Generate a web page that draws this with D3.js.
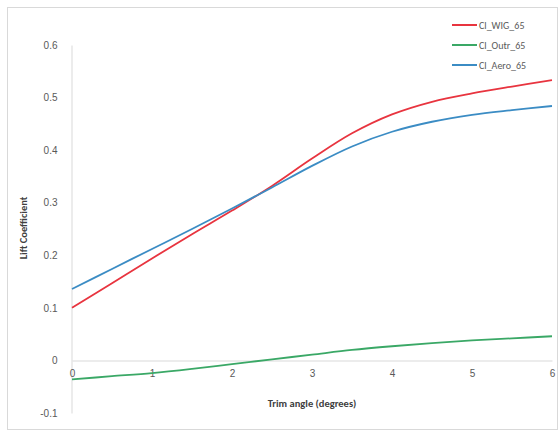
<!DOCTYPE html>
<html>
<head>
<meta charset="utf-8">
<script src="https://cdn.jsdelivr.net/npm/d3@7"></script>
<style>
  html, body { margin: 0; padding: 0; background: #fff; }
  svg { display: block; font-family: Calibri, Carlito, "Liberation Sans", Arial, sans-serif; }
</style>
</head>
<body>
<svg id="chart" width="560" height="432"></svg>
<script>
// Trim angle (degrees) sample points
const trimAngle = [0, 0.5, 1, 1.5, 2, 2.5, 3, 3.5, 4, 4.5, 5, 5.5, 6];

// Lift coefficient series
const clWIG  = [0.100, 0.147, 0.194, 0.240, 0.285, 0.332, 0.384, 0.432, 0.468, 0.492, 0.508, 0.521, 0.533];
const clOutr = [-0.036, -0.030, -0.024, -0.016, -0.007, 0.002, 0.011, 0.020, 0.027, 0.033, 0.038, 0.042, 0.046];
const clAero = [0.136, 0.174, 0.212, 0.250, 0.289, 0.329, 0.370, 0.407, 0.435, 0.454, 0.467, 0.476, 0.484];

const seriesNames = ["Cl_WIG_65", "Cl_Outr_65", "Cl_Aero_65"];
const seriesColors = ["#e8343f", "#3aa866", "#3b8cc4"];
const seriesValues = [clWIG, clOutr, clAero];

const xTicks = [0, 1, 2, 3, 4, 5, 6];
const yTicks = [-0.1, 0, 0.1, 0.2, 0.3, 0.4, 0.5, 0.6];

const svg = d3.select("#chart");

// chart frame
svg.append("rect")
  .attr("x", 7.5).attr("y", 7.5)
  .attr("width", 550).attr("height", 422)
  .attr("fill", "#fff").attr("stroke", "#d9d9d9").attr("stroke-width", 1);

const x = d3.scaleLinear().domain([0, 6]).range([72, 552]);
const y = d3.scaleLinear().domain([-0.1, 0.6]).range([413, 45]);

// vertical value axis
const yAxis = d3.axisLeft(y).tickValues(yTicks).tickSize(0).tickPadding(14)
  .tickFormat(d => d === 0 ? "0" : String(+d.toFixed(1)));
const gy = svg.append("g").attr("transform", `translate(${x(0) - 0.5},0)`).call(yAxis);
gy.select(".domain").attr("stroke", "#d9d9d9");
gy.selectAll("text").attr("fill", "#595959").style("font-size", "10px");

// horizontal axis line at zero, labels just beneath it
const xAxis = d3.axisBottom(x).tickValues(xTicks).tickSize(0).tickPadding(9)
  .tickFormat(d3.format("d"));
const gx = svg.append("g").attr("transform", `translate(0,${Math.round(y(0)) + 0.5})`).call(xAxis);
gx.select(".domain").attr("stroke", "#d9d9d9");
gx.selectAll("text").attr("fill", "#595959").style("font-size", "10px");

// axis titles
svg.append("text")
  .attr("x", 312).attr("y", 407)
  .attr("text-anchor", "middle")
  .attr("font-weight", "bold").attr("font-size", "10.5px").attr("fill", "#404040")
  .text("Trim angle (degrees)");

svg.append("text")
  .attr("transform", "translate(27,228) rotate(-90)")
  .attr("text-anchor", "middle")
  .attr("font-weight", "bold").attr("font-size", "10.5px").attr("fill", "#404040")
  .text("Lift Coefficient");

// smoothed series lines
const line = d3.line()
  .x((d, i) => x(trimAngle[i]))
  .y(d => y(d))
  .curve(d3.curveCatmullRom.alpha(0.5));

seriesValues.forEach((vals, k) => {
  svg.append("path")
    .datum(vals)
    .attr("d", line)
    .attr("fill", "none")
    .attr("stroke", seriesColors[k])
    .attr("stroke-width", 1.8);
});

// legend
const legend = svg.append("g");
seriesNames.forEach((name, k) => {
  const ly = 25 + k * 20;
  legend.append("line")
    .attr("x1", 452).attr("x2", 477)
    .attr("y1", ly).attr("y2", ly)
    .attr("stroke", seriesColors[k]).attr("stroke-width", 2);
  legend.append("text")
    .attr("x", 479).attr("y", ly + 3.5)
    .attr("font-size", "10px").attr("fill", "#595959")
    .text(name);
});
</script>
</body>
</html>
